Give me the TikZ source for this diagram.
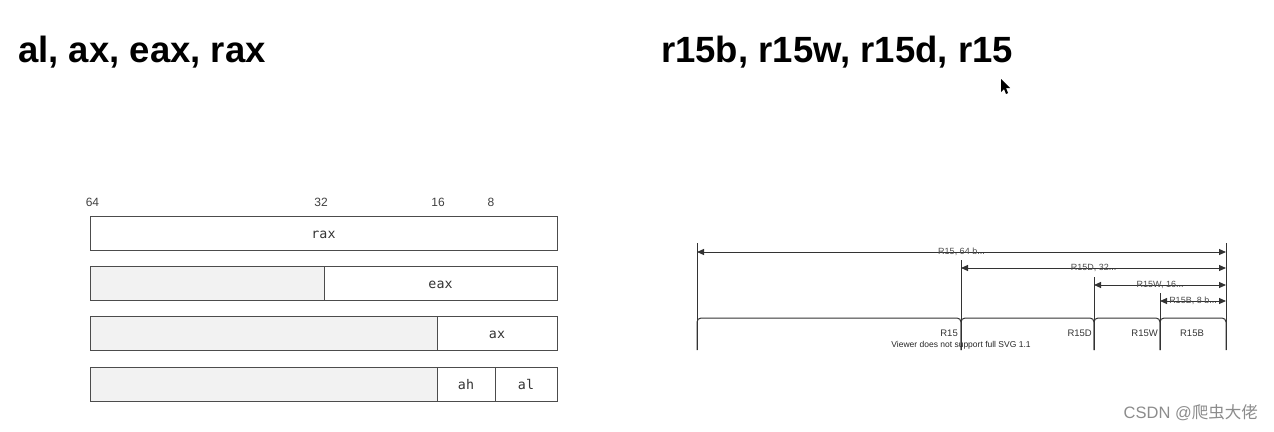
\documentclass[tikz,border=0pt]{standalone}
\usepackage{fontspec}
\setmainfont{Liberation Sans}
\setmonofont{DejaVu Sans Mono}
\newfontfamily\cjkfont{Noto Sans CJK SC}
\usetikzlibrary{arrows.meta, positioning}

\begin{document}
\begin{tikzpicture}[
    x=1pt, y=-1pt,
title/.style = {anchor=base west, inner sep=0pt, font=\fontsize{36.5}{40}\selectfont\bfseries},
bit/.style = {inner sep=0pt, font=\fontsize{12}{14}\selectfont, text=black!75},
reg/.style = {draw=black!70, line width=0.9pt, minimum height=34pt, inner sep=0pt, outer sep=0pt,
              text height=11pt, text depth=0pt,
              anchor=north west, font=\fontsize{13.3}{15}\selectfont\ttfamily, text=black!80},
pad/.style = {reg, fill=black!5},
tick/.style = {draw=black!80, line width=1pt},
dim/.style = {tick, {Triangle[length=7pt,width=6pt]}-{Triangle[length=7pt,width=6pt]}},
dimlbl/.style = {inner sep=0pt, font=\fontsize{9}{10}\selectfont, text=black!70},
seg/.style = {tick, rounded corners=4pt},
seglbl/.style = {inner sep=0pt, font=\fontsize{9.5}{10}\selectfont, text=black!80}
                        ]
\useasboundingbox (0,0) rectangle (1274,431);
% titles
\node (t1) [title] at (18,62)  {al, ax, eax, rax};
\node (t2) [title] at (661,62) {r15b, r15w, r15d, r15};
% left: register boxes
\node (b64) [bit] at (92.5,202) {64};
\node (b32) [bit] at (321,202)  {32};
\node (b16) [bit] at (438,202)  {16};
\node (b8)  [bit] at (491,202)  {8};
\node (rax) [reg, minimum width=467pt] at (90,216) {rax};
\node (e64) [pad, minimum width=234pt] at (90,266) {};
\node (eax) [reg, minimum width=233pt, right=0pt of e64] {eax};
\node (a64) [pad, minimum width=347pt] at (90,316) {};
\node (ax)  [reg, minimum width=120pt, right=0pt of a64] {ax};
\node (h64) [pad, minimum width=347pt] at (90,367) {};
\node (ah)  [reg, minimum width=58pt, right=0pt of h64] {ah};
\node (al)  [reg, minimum width=62pt, right=0pt of ah] {al};
% right: r15 layout
\coordinate (x64) at (697,350);
\coordinate (x32) at (961,350);
\coordinate (x16) at (1094,350);
\coordinate (x8)  at (1160,350);
\coordinate (x0)  at (1226,350);
\coordinate (top) at (0,318);
\draw[tick] (x64) -- ++(0,-107);
\draw[tick] (x0)  -- ++(0,-107);
\draw[tick] (x32) -- ++(0,-90);
\draw[tick] (x16) -- ++(0,-73);
\draw[tick] (x8)  -- ++(0,-57);
\draw[dim] (x64 |- 0,252) -- node[dimlbl] (l64) {R15, 64 b...}  (x0 |- 0,252);
\draw[dim] (x32 |- 0,268) -- node[dimlbl] (l32) {R15D, 32...}  (x0 |- 0,268);
\draw[dim] (x16 |- 0,285) -- node[dimlbl] (l16) {R15W, 16...}  (x0 |- 0,285);
\draw[dim] (x8 |- 0,301)  -- node[dimlbl] (l8)  {R15B, 8 b...} (x0 |- 0,301);
\draw[seg] (x64) |- (x32 |- top) -- (x32);
\draw[seg] (x32) |- (x16 |- top) -- (x16);
\draw[seg] (x16) |- (x8 |- top)  -- (x8);
\draw[seg] (x8)  |- (x0 |- top)  -- (x0);
\node (s64) [seglbl, anchor=east] at (958,333)  {R15};
\node (s32) [seglbl, anchor=east] at (1092,333) {R15D};
\node (s16) [seglbl, anchor=east] at (1158,333) {R15W};
\node (s8)  [seglbl] at (1192,333) {R15B};
\node (warn) [inner sep=0pt, font=\fontsize{8.5}{9}\selectfont, text=black!85] at (961,345)
    {Viewer does not support full SVG 1.1};
% mouse pointer
\fill[black] (1001,79) -- (1001,92) -- (1004,89) -- (1006,94) -- (1008,93) -- (1006,88) -- (1010,88) -- cycle;
% watermark
\node (wm) [anchor=east, inner sep=0pt, text=black!45, font=\fontsize{16.5}{18}\selectfont]
    at (1258,413) {CSDN @{\cjkfont 爬虫大佬}};
\end{tikzpicture}
\end{document}
